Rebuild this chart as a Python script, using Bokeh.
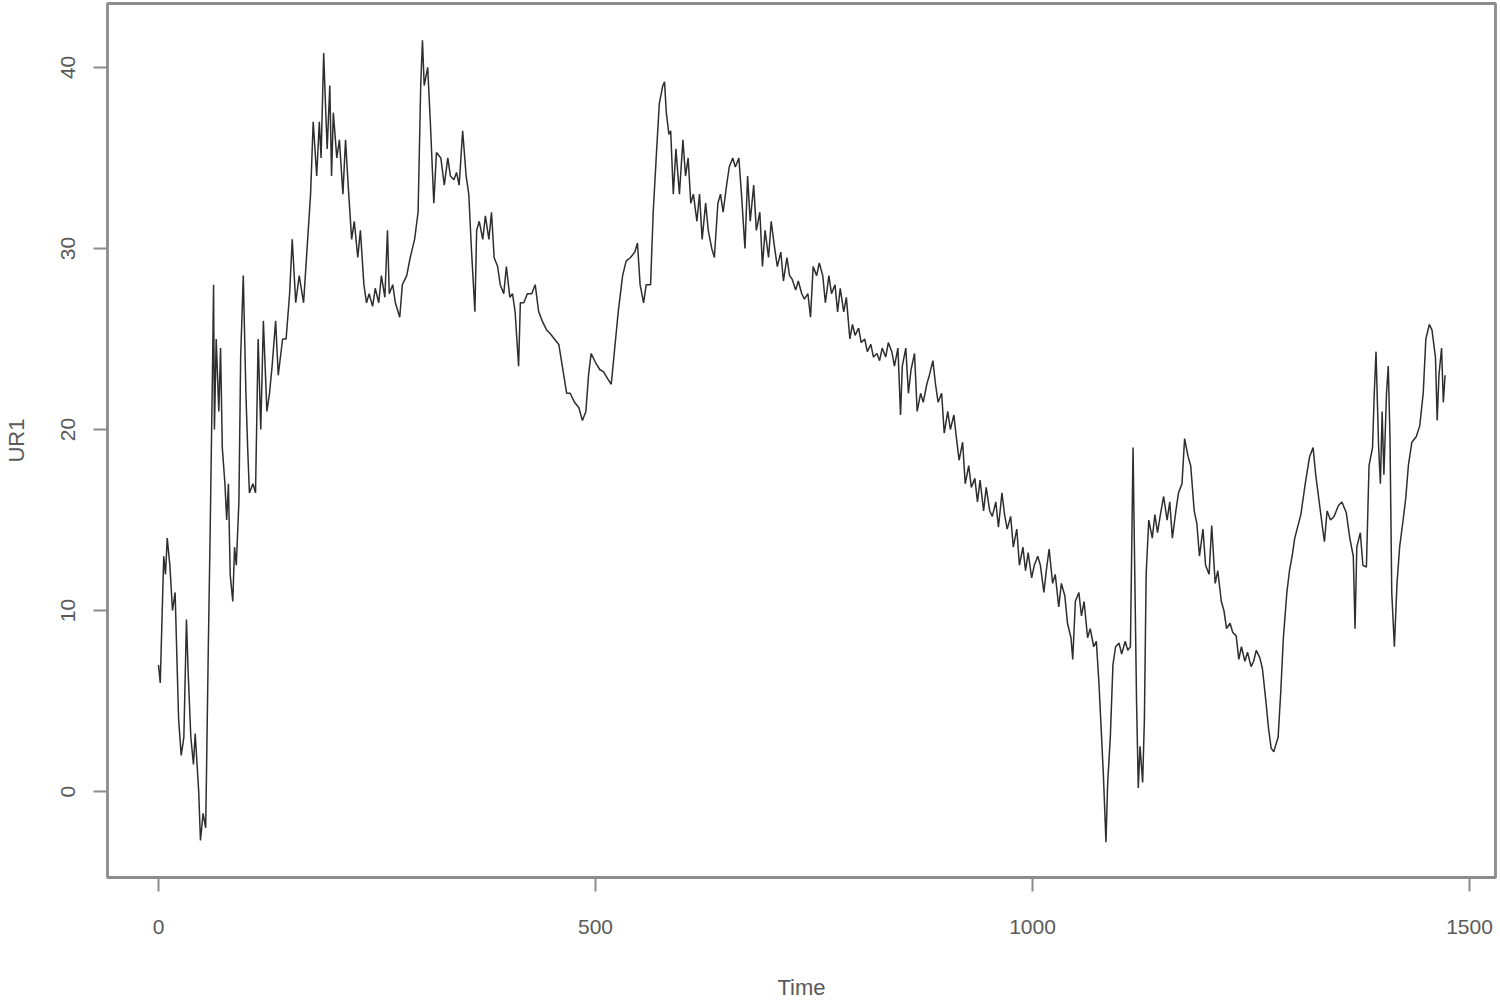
from bokeh.plotting import figure
from bokeh.models import Range1d, FixedTicker, ColumnDataSource
from bokeh.embed import file_html
from bokeh.resources import INLINE

# Values (Time, UR1)
time = [0, 2, 6, 8, 10, 13, 16, 19, 23, 26, 29, 32, 34, 37, 40, 42, 46, 48, 51, 54,
        57, 59, 62, 63, 64, 66, 69, 71, 73, 76, 78, 80, 82, 85, 87, 89, 92, 94, 97, 100,
        102, 104, 108, 111, 114, 117, 120, 124, 127, 130, 134, 137, 142, 146, 150, 153, 157, 161, 166, 170,
        174, 177, 181, 184, 186, 189, 191, 193, 196, 198, 200, 204, 207, 211, 214, 217, 221, 224, 228, 231,
        235, 238, 241, 245, 248, 252, 255, 259, 262, 264, 268, 271, 276, 279, 284, 288, 293, 297, 300, 302,
        304, 308, 311, 315, 318, 323, 327, 331, 334, 338, 341, 344, 348, 352, 355, 358, 362, 364, 367, 371,
        374, 378, 381, 384, 388, 391, 395, 398, 402, 405, 408, 412, 414, 418, 422, 427, 431, 435, 439, 444,
        448, 453, 458, 462, 467, 471, 476, 481, 485, 489, 492, 495, 500, 505, 509, 514, 518, 522, 526, 531,
        535, 540, 545, 548, 551, 555, 558, 563, 566, 570, 573, 577, 579, 581, 584, 586, 589, 592, 596, 600,
        603, 606, 609, 612, 616, 619, 622, 626, 629, 633, 636, 640, 643, 646, 650, 653, 657, 660, 664, 667,
        671, 674, 677, 681, 684, 688, 691, 694, 698, 701, 705, 708, 712, 715, 719, 722, 725, 729, 732, 736,
        739, 743, 746, 749, 753, 756, 760, 763, 767, 770, 774, 777, 780, 784, 787, 791, 794, 797, 801, 804,
        808, 811, 815, 818, 822, 825, 828, 832, 835, 839, 842, 846, 849, 851, 855, 858, 861, 865, 868, 872,
        875, 879, 882, 886, 889, 892, 896, 899, 903, 906, 910, 913, 916, 920, 923, 927, 930, 934, 937, 940,
        944, 947, 951, 954, 958, 961, 965, 968, 971, 975, 978, 982, 985, 989, 992, 995, 999, 1002, 1006, 1009,
        1013, 1016, 1019, 1023, 1026, 1030, 1033, 1037, 1040, 1044, 1046, 1049, 1053, 1056, 1059, 1063, 1066, 1070, 1073, 1076,
        1078, 1081, 1083, 1084, 1086, 1089, 1092, 1095, 1099, 1102, 1106, 1109, 1112, 1115, 1117, 1119, 1121, 1123, 1126, 1128,
        1130, 1133, 1137, 1140, 1143, 1147, 1150, 1154, 1157, 1160, 1164, 1167, 1171, 1174, 1178, 1181, 1185, 1188, 1191, 1195,
        1198, 1202, 1205, 1209, 1212, 1216, 1219, 1222, 1226, 1229, 1233, 1236, 1239, 1243, 1246, 1250, 1253, 1256, 1260, 1263,
        1267, 1270, 1273, 1276, 1281, 1284, 1287, 1291, 1294, 1297, 1300, 1307, 1312, 1317, 1321, 1324, 1328, 1332, 1334, 1337,
        1341, 1345, 1350, 1354, 1359, 1363, 1367, 1369, 1371, 1375, 1378, 1382, 1385, 1389, 1391, 1393, 1396, 1398, 1400, 1402,
        1405, 1407, 1409, 1411, 1414, 1417, 1420, 1424, 1427, 1430, 1434, 1439, 1443, 1447, 1450, 1454, 1457, 1461, 1463, 1465,
        1468, 1470, 1472]

ur1 = [7, 6, 13, 12, 14, 12.5, 10, 11, 4, 2, 3, 9.5, 6.5, 3, 1.5, 3.2, 0, -2.7, -1.2, -2,
       8, 14, 24, 28, 20, 25, 21, 24.5, 19, 17, 15, 17, 12, 10.5, 13.5, 12.5, 16, 24, 28.5, 22,
       19, 16.5, 17, 16.5, 25, 20, 26, 21, 22, 23.5, 26, 23, 25, 25, 27.5, 30.5, 27, 28.5, 27, 30,
       33, 37, 34, 37, 35, 40.8, 38, 35.5, 39, 34, 37.5, 35, 36, 33, 36, 33.5, 30.5, 31.5, 29.5, 31,
       28, 27, 27.5, 26.8, 27.8, 27, 28.5, 27.3, 31, 27.5, 28, 27, 26.2, 28, 28.5, 29.5, 30.5, 32, 39, 41.5,
       39, 40, 37, 32.5, 35.3, 35, 33.5, 35, 34, 33.8, 34.2, 33.5, 36.5, 34, 33, 30, 26.5, 31, 31.5, 30.5,
       31.8, 30.5, 32, 29.5, 29, 28, 27.5, 29, 27.3, 27.5, 26.5, 23.5, 27, 27, 27.5, 27.5, 28, 26.5, 26, 25.5,
       25.3, 25, 24.7, 23.5, 22, 22, 21.5, 21.2, 20.5, 21, 23, 24.2, 23.7, 23.3, 23.2, 22.8, 22.5, 24.5, 26.5, 28.5,
       29.3, 29.5, 29.8, 30.3, 28, 27, 28, 28, 32, 35.5, 38, 39, 39.2, 37.5, 36.3, 36.5, 33, 35.5, 33, 36,
       34, 35, 32.5, 33, 31.5, 33, 30.5, 32.5, 31, 30, 29.5, 32.5, 33, 32, 33.5, 34.5, 35, 34.5, 35, 33,
       30, 34, 31.5, 33.5, 31, 32, 29, 31, 29.5, 31.5, 30, 29, 29.8, 28.2, 29.5, 28.5, 28.3, 27.7, 28.2, 27.5,
       27.2, 27.5, 26.2, 29, 28.5, 29.2, 28.5, 27, 28.5, 27.5, 28, 26.5, 27.8, 26.5, 27.3, 25, 25.8, 25.2, 25.6, 24.8,
       25, 24.3, 24.7, 24, 24.2, 23.8, 24.5, 24, 24.8, 24.3, 23.5, 24.5, 20.8, 23.5, 24.5, 22, 23.3, 24.2, 21, 22,
       21.5, 22.5, 23, 23.8, 22.5, 21.5, 22, 19.8, 21, 20, 20.8, 19.5, 18.3, 19.3, 17, 18, 16.8, 17.3, 16, 17.2,
       15.5, 16.8, 15.5, 15.2, 16, 14.6, 16.5, 15.3, 14.5, 15.2, 13.5, 14.5, 12.5, 13.5, 12.2, 13.2, 11.8, 12.5, 13, 12.5,
       11, 12.3, 13.4, 11.5, 12, 10.2, 11.5, 10.8, 9.3, 8.5, 7.3, 10.5, 11, 9.7, 10.5, 8.5, 9, 8, 8.3, 6,
       4, 1, -1.5, -2.8, 0.5, 3, 7, 8, 8.2, 7.6, 8.3, 7.8, 8, 19, 12, 5, 0.2, 2.5, 0.5, 4,
       12, 15, 14, 15.3, 14.3, 15.5, 16.3, 15, 16, 14, 15.5, 16.5, 17, 19.5, 18.5, 18, 15.5, 14.8, 13, 14.5,
       12.5, 12, 14.7, 11.5, 12.2, 10.5, 10, 9, 9.3, 8.8, 8.6, 7.3, 8, 7.2, 7.7, 6.9, 7.2, 7.8, 7.4, 6.8,
       5, 3.5, 2.4, 2.2, 3, 5.5, 8.5, 11, 12.2, 13, 14, 15.3, 17, 18.5, 19, 17.5, 16, 14.5, 13.8, 15.5,
       15, 15.2, 15.8, 16, 15.4, 14, 13, 9, 13.5, 14.3, 12.5, 12.4, 18, 19, 22, 24.3, 19, 17, 21, 17.5,
       22, 23.5, 19.5, 11, 8, 11.5, 13.5, 15, 16.2, 18, 19.3, 19.6, 20.2, 22, 25, 25.8, 25.5, 24, 20.5, 23,
       24.5, 21.5, 23]

x_ticks = [0, 500, 1000, 1500]
y_ticks = [0, 10, 20, 30, 40]

src = ColumnDataSource(data=dict(time=time, ur1=ur1))

p = figure(width=1498, height=1002, output_backend="svg", toolbar_location=None,
           x_range=Range1d(-58.35, 1529.7), y_range=Range1d(-4.745, 43.53),
           min_border_left=107, min_border_right=3, min_border_top=3, min_border_bottom=124,
           background_fill_color="white", border_fill_color="white")

p.line("time", "ur1", source=src, line_color="#2e2e2e", line_width=1.5)

p.grid.visible = False
p.outline_line_color = "#8c8c8c"
p.outline_line_width = 2.8
p.outline_line_alpha = 1.0

for ax in (p.xaxis[0], p.yaxis[0]):
    ax.axis_line_color = None
    ax.major_tick_line_color = "#8c8c8c"
    ax.major_tick_line_width = 2
    ax.major_tick_out = 14
    ax.major_tick_in = 0
    ax.minor_tick_line_color = None
    ax.major_label_text_font = "Liberation Sans"
    ax.major_label_text_font_size = "21px"
    ax.major_label_text_color = "#5a5a5a"
    ax.axis_label_text_font = "Liberation Sans"
    ax.axis_label_text_font_size = "22px"
    ax.axis_label_text_font_style = "normal"
    ax.axis_label_text_color = "#5a5a5a"

p.xaxis.ticker = FixedTicker(ticks=x_ticks)
p.yaxis.ticker = FixedTicker(ticks=y_ticks)
p.xaxis.axis_label = "Time"
p.yaxis.axis_label = "UR1"
p.xaxis.major_label_standoff = 28
p.xaxis.axis_label_standoff = 38
p.yaxis.major_label_standoff = 18
p.yaxis.axis_label_standoff = 30
p.yaxis.major_label_orientation = "vertical"

open("out.html", "w").write(file_html(p, INLINE))
